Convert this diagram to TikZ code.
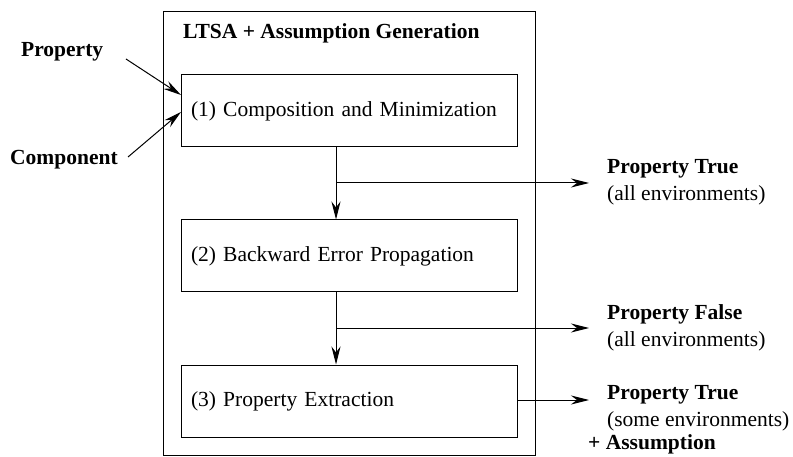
\documentclass[tikz,border=0pt]{standalone}
\usepackage{fontspec}
\setmainfont{Liberation Serif}
\usetikzlibrary{arrows.meta}
\begin{document}
\begin{tikzpicture}[x=1pt,y=-1pt,
  every node/.style={font=\fontsize{21.5}{27}\selectfont},
  stage/.style={draw, line width=1pt, minimum width=336pt, minimum height=72pt,
     text width=316pt, inner xsep=10pt, align=left},
  lbl/.style={inner sep=0pt, align=left, anchor=west},
  conn/.style={line width=1pt, -{Stealth[length=18pt,width=9pt,inset=6pt]}},
  plain/.style={line width=1pt}]
\useasboundingbox (0,0) rectangle (793,457);
\draw[line width=1pt] (163,12) rectangle (535,455);
\node[lbl, font=\fontsize{21.5}{27}\selectfont\bfseries] (title) at (183,33) {LTSA + Assumption Generation};
\node[stage] (b1) at (349,111) {(1) Composition and Minimization};
\node[stage] (b2) at (349,256) {(2) Backward Error Propagation};
\node[stage] (b3) at (349,401) {(3) Property Extraction};
% inputs
\node[lbl, font=\fontsize{21.5}{27}\selectfont\bfseries] (prop) at (21,52) {Property};
\node[lbl, font=\fontsize{21.5}{27}\selectfont\bfseries] (comp) at (10,160) {Component};
\coordinate (ps) at (126,59);
\coordinate (cs) at (128,157);
\coordinate (pe) at (181,95);
\coordinate (ce) at (181,112);
\draw[conn] (ps) -- (pe);
\draw[conn] (cs) -- (ce);
% outputs
\node[lbl] (o1) at (607,182.5) {\textbf{Property True}\\(all environments)};
\node[lbl] (o2) at (607,327.5) {\textbf{Property False}\\(all environments)};
\node[lbl] (o3) at (607,408.5) {\textbf{Property True}\\(some environments)};
\node[lbl, font=\fontsize{21.5}{27}\selectfont\bfseries] (o4) at (588,444) {+ Assumption};
\coordinate (j1) at (336,183);
\coordinate (j2) at (336,328);
\coordinate (t1) at (589,183);
\coordinate (t2) at (589,328);
\coordinate (t3) at (589,400);
\draw[conn] (b1.south -| j1) -- (b2.north -| j1);
\draw[conn] (b2.south -| j2) -- (b3.north -| j2);
\draw[conn] (j1) -- (t1);
\draw[conn] (j2) -- (t2);
\draw[conn] (b3.east |- t3) -- (t3);
\end{tikzpicture}
\end{document}
